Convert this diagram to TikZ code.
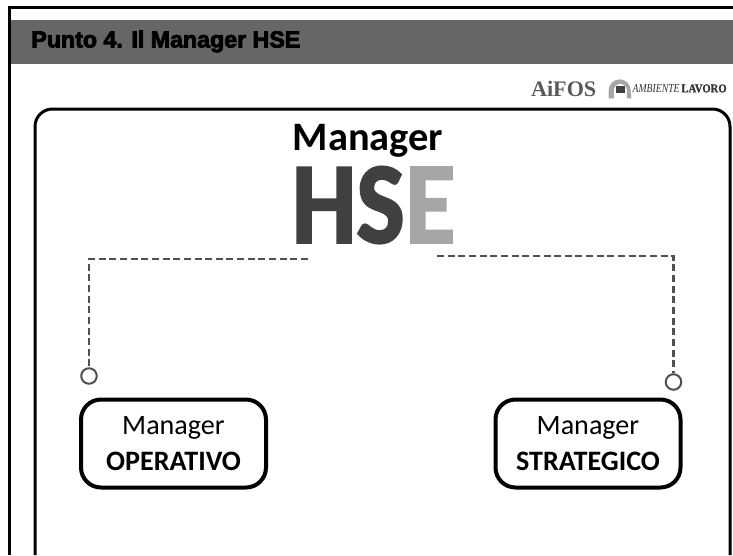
\documentclass[tikz,border=0pt]{standalone}
\usepackage{fontspec}
\setmainfont{Carlito}
\newfontfamily\titlefont[BoldFeatures={FakeBold=3.5}]{Liberation Sans}
\newfontfamily\logofont[ItalicFeatures={FakeStretch=0.8},BoldFeatures={FakeStretch=0.88,FakeBold=1}]{Liberation Serif}
\newfontfamily\aifosfont{Liberation Serif}
\newfontfamily\hsefont[BoldFeatures={FakeStretch=0.88,FakeBold=2}]{Carlito}
\definecolor{barcolor}{HTML}{666666}
\definecolor{darkletter}{HTML}{404040}
\definecolor{lightletter}{HTML}{A6A6A6}
\definecolor{logocolor}{HTML}{595959}
\definecolor{linecolor}{HTML}{505050}
\tikzset{
    managerbox/.style={draw, line width=0.08cm, rounded corners=0.4cm, minimum width=3.7cm, minimum height=1.76cm, align=center, font=\fontsize{16}{20}\selectfont},
    dashline/.style={draw=linecolor, line width=0.05cm, dash pattern=on 0.14cm off 0.073cm},
    endcircle/.style={circle, draw=linecolor, line width=0.04cm, minimum size=0.31cm, inner sep=0pt, fill=white},
    hseletter/.style={inner sep=0pt, font=\hsefont\fontsize{66}{66}\selectfont\bfseries}
}
\begin{document}
\begin{tikzpicture}
    \useasboundingbox (0,0) rectangle (14.66,11.1);
    % frame and bar
    \fill[barcolor] (0.22,9.82) rectangle (14.66,10.7);
    \draw[line width=0.06cm] (0.2,0) -- (0.2,10.95) -- (14.66,10.95);
    \node (title) [anchor=west, inner sep=0pt] at (0.62,10.27) {\titlefont\fontsize{13.2}{15}\selectfont\bfseries Punto 4. Il Manager HSE};
    % logos
    \node (lavoro) [anchor=east, inner sep=0pt, text=black!80] at (14.54,9.33) {\logofont\fontsize{6.9}{8}\selectfont\textit{AMBIENTE}\hspace{0.15em}\textbf{LAVORO}};
    \node (arch) [anchor=east, minimum width=0.44cm, minimum height=0.38cm, inner sep=0pt, xshift=-0.02cm] at (lavoro.west) {};
    \fill[lightletter] (arch.south west) -- ++(0,0.16) arc[start angle=180, end angle=0, radius=0.22cm] -- (arch.south east) -- ++(-0.09,0) -- ++(0,0.16) arc[start angle=0, end angle=180, radius=0.13cm] -- ++(0,-0.16) -- cycle;
    \fill[darkletter] (arch.south) ++(-0.09,0.1) rectangle ++(0.18,0.14);
    \node (aifos) [anchor=east, inner sep=0pt, text=logocolor, xshift=-0.24cm] at (arch.west) {\aifosfont\fontsize{12.6}{15}\selectfont\textbf{AiFOS}};
    % main panel
    \draw[line width=0.06cm, rounded corners=0.35cm] (0.7,0) |- (14.6,8.92) -- (14.6,0);
    % heading
    \node (heading) [font=\fontsize{23}{27}\selectfont\bfseries, inner sep=0pt] at (7.36,8.29) {Manager};
    \node (hs) [hseletter, text=darkletter, anchor=east] at (8.1,7.0) {HS};
    \node (e) [hseletter, text=lightletter, anchor=west] at (hs.east) {E};
    % boxes
    \node (operativo) [managerbox] at (3.47,2.23) {Manager\\\textbf{OPERATIVO}};
    \node (strategico) [managerbox] at (11.76,2.23) {Manager\\\textbf{STRATEGICO}};
    \node (circleleft) [endcircle] at (1.78,3.58) {};
    \node (circleright) [endcircle] at (13.47,3.46) {};
    \coordinate (startleft) at (6.16,5.92);
    \coordinate (startright) at (8.74,5.98);
    % connectors
    \draw[dashline] (startleft) -| (circleleft);
    \draw[dashline] (startright) -| (circleright);
\end{tikzpicture}
\end{document}
